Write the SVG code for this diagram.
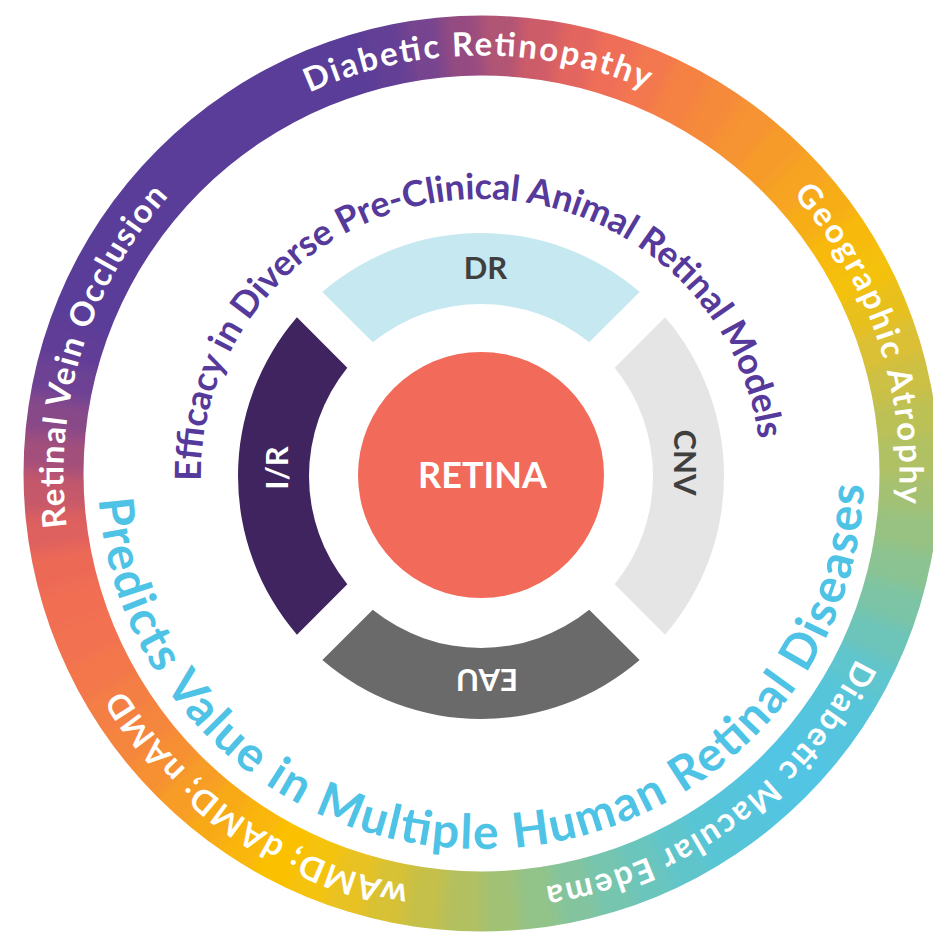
<svg xmlns="http://www.w3.org/2000/svg" width="933" height="932" viewBox="0 0 933 932">
<style>
  text { font-family: Lato, 'Open Sans', 'Liberation Sans', sans-serif; }
  .ring-txt { font-size: 33px; font-weight: 700; fill: #FFFFFF; }
  .model-txt { font-size: 36px; font-weight: 700; fill: #55399B; }
  .human-txt { font-size: 48px; font-weight: 700; fill: #4FC3E6; }
  .seg-lbl { font-size: 31px; font-weight: 700; }
  .core-lbl { font-size: 36px; font-weight: 700; fill: #FFFFFF; }
</style>
<defs>
  <circle id="rc" cx="481.5" cy="473.5" r="428" pathLength="360" fill="none" stroke-width="100"/>
  <clipPath id="ringClip">
    <path clip-rule="evenodd" d="M 939.5 473.5 A 458 458 0 0 1 23.5 473.5 A 458 458 0 0 1 939.5 473.5 Z M 879.5 473.5 A 398 398 0 0 1 83.5 473.5 A 398 398 0 0 1 879.5 473.5 Z"/>
  </clipPath>
  <filter id="soft" x="-10%" y="-10%" width="120%" height="120%">
    <feGaussianBlur stdDeviation="7"/>
  </filter>
  <path id="outerArc" d="M 481.5 891.5 A 418 418 0 0 1 63.5 473.5 A 418 418 0 0 1 481.5 55.5 A 418 418 0 0 1 899.5 473.5 A 418 418 0 0 1 481.5 891.5"/>
  <path id="purpleArc" d="M 481 751 A 280 276 0 0 1 201 475 A 280 276 0 0 1 481 199 A 280 276 0 0 1 761 475 A 280 276 0 0 1 481 751"/>
  <path id="blueArc" d="M 481 101 A 383 374 0 0 0 98 475 A 383 374 0 0 0 481 849 A 383 374 0 0 0 864 475 A 383 374 0 0 0 481 101"/>
</defs>
<rect width="933" height="932" fill="#FFFFFF"/>

<g id="outer-ring" clip-path="url(#ringClip)">
  <g filter="url(#soft)" stroke-dasharray="5.6 354.4">
    <use href="#rc" stroke="#A4C173" stroke-dashoffset="0"/>
    <use href="#rc" stroke="#98C281" stroke-dashoffset="-5"/>
    <use href="#rc" stroke="#8BC392" stroke-dashoffset="-10"/>
    <use href="#rc" stroke="#7CC4A5" stroke-dashoffset="-15"/>
    <use href="#rc" stroke="#6DC4B9" stroke-dashoffset="-20"/>
    <use href="#rc" stroke="#5FC5CE" stroke-dashoffset="-25"/>
    <use href="#rc" stroke="#57C5DA" stroke-dashoffset="-30"/>
    <use href="#rc" stroke="#54C5DF" stroke-dashoffset="-35"/>
    <use href="#rc" stroke="#51C5E3" stroke-dashoffset="-40"/>
    <use href="#rc" stroke="#52C5E2" stroke-dashoffset="-45"/>
    <use href="#rc" stroke="#56C5DC" stroke-dashoffset="-50"/>
    <use href="#rc" stroke="#59C5D5" stroke-dashoffset="-55"/>
    <use href="#rc" stroke="#60C5CB" stroke-dashoffset="-60"/>
    <use href="#rc" stroke="#6BC5BD" stroke-dashoffset="-65"/>
    <use href="#rc" stroke="#76C5AF" stroke-dashoffset="-70"/>
    <use href="#rc" stroke="#83C49E" stroke-dashoffset="-75"/>
    <use href="#rc" stroke="#92C389" stroke-dashoffset="-80"/>
    <use href="#rc" stroke="#A1C174" stroke-dashoffset="-85"/>
    <use href="#rc" stroke="#B2C060" stroke-dashoffset="-90"/>
    <use href="#rc" stroke="#C5C04A" stroke-dashoffset="-95"/>
    <use href="#rc" stroke="#D7C136" stroke-dashoffset="-100"/>
    <use href="#rc" stroke="#E8C222" stroke-dashoffset="-105"/>
    <use href="#rc" stroke="#F4C30E" stroke-dashoffset="-110"/>
    <use href="#rc" stroke="#FBC103" stroke-dashoffset="-115"/>
    <use href="#rc" stroke="#FAB60E" stroke-dashoffset="-120"/>
    <use href="#rc" stroke="#F8AA19" stroke-dashoffset="-125"/>
    <use href="#rc" stroke="#F79D26" stroke-dashoffset="-130"/>
    <use href="#rc" stroke="#F69032" stroke-dashoffset="-135"/>
    <use href="#rc" stroke="#F5863C" stroke-dashoffset="-140"/>
    <use href="#rc" stroke="#F47F44" stroke-dashoffset="-145"/>
    <use href="#rc" stroke="#F3774C" stroke-dashoffset="-150"/>
    <use href="#rc" stroke="#F27151" stroke-dashoffset="-155"/>
    <use href="#rc" stroke="#F16E52" stroke-dashoffset="-160"/>
    <use href="#rc" stroke="#EC6956" stroke-dashoffset="-165"/>
    <use href="#rc" stroke="#DE615F" stroke-dashoffset="-170"/>
    <use href="#rc" stroke="#C5586B" stroke-dashoffset="-175"/>
    <use href="#rc" stroke="#A34F7C" stroke-dashoffset="-180"/>
    <use href="#rc" stroke="#884889" stroke-dashoffset="-185"/>
    <use href="#rc" stroke="#6D4295" stroke-dashoffset="-190"/>
    <use href="#rc" stroke="#613E97" stroke-dashoffset="-195"/>
    <use href="#rc" stroke="#5A3C98" stroke-dashoffset="-200" stroke-dasharray="55.6 304.4"/>
    <use href="#rc" stroke="#643F95" stroke-dashoffset="-255"/>
    <use href="#rc" stroke="#77458F" stroke-dashoffset="-260"/>
    <use href="#rc" stroke="#954C81" stroke-dashoffset="-265"/>
    <use href="#rc" stroke="#B15474" stroke-dashoffset="-270"/>
    <use href="#rc" stroke="#CD5C69" stroke-dashoffset="-275"/>
    <use href="#rc" stroke="#E2655F" stroke-dashoffset="-280"/>
    <use href="#rc" stroke="#EF6E58" stroke-dashoffset="-285"/>
    <use href="#rc" stroke="#F3774F" stroke-dashoffset="-290"/>
    <use href="#rc" stroke="#F58143" stroke-dashoffset="-295"/>
    <use href="#rc" stroke="#F58A3A" stroke-dashoffset="-300"/>
    <use href="#rc" stroke="#F69333" stroke-dashoffset="-305"/>
    <use href="#rc" stroke="#F69B2B" stroke-dashoffset="-310"/>
    <use href="#rc" stroke="#F7A423" stroke-dashoffset="-315"/>
    <use href="#rc" stroke="#F7AE18" stroke-dashoffset="-320"/>
    <use href="#rc" stroke="#F8B90A" stroke-dashoffset="-325"/>
    <use href="#rc" stroke="#F4C107" stroke-dashoffset="-330"/>
    <use href="#rc" stroke="#E8C01E" stroke-dashoffset="-335"/>
    <use href="#rc" stroke="#DBC035" stroke-dashoffset="-340"/>
    <use href="#rc" stroke="#CCC044" stroke-dashoffset="-345"/>
    <use href="#rc" stroke="#BCC154" stroke-dashoffset="-350"/>
    <use href="#rc" stroke="#B0C164" stroke-dashoffset="-355"/>
  </g>
</g>

<g id="outer-labels">
  <text id="label-wamd" class="ring-txt" text-anchor="middle"><textPath href="#outerArc" startOffset="9.58%" textLength="357">wAMD; dAMD; nAMD</textPath></text>
  <text id="label-rvo" class="ring-txt" text-anchor="middle"><textPath href="#outerArc" startOffset="29.74%" textLength="357">Retinal Vein Occlusion</textPath></text>
  <text id="label-dr" class="ring-txt" text-anchor="middle"><textPath href="#outerArc" startOffset="49.85%" textLength="347">Diabetic Retinopathy</textPath></text>
  <text id="label-ga" class="ring-txt" text-anchor="middle"><textPath href="#outerArc" startOffset="69.76%" textLength="335">Geographic Atrophy</textPath></text>
  <text id="label-dme" class="ring-txt" text-anchor="middle"><textPath href="#outerArc" startOffset="89.93%" textLength="401">Diabetic Macular Edema</textPath></text>
</g>

<g id="human-diseases">
  <text class="human-txt" text-anchor="middle"><textPath href="#blueArc" startOffset="50.3%" textLength="1155">Predicts Value in Multiple Human Retinal Diseases</textPath></text>
</g>

<g id="preclinical-models">
  <text class="model-txt" text-anchor="middle"><textPath href="#purpleArc" startOffset="48.8%" textLength="843">Efficacy in Diverse Pre-Clinical Animal Retinal Models</textPath></text>
</g>

<g id="seg-dr">
  <path d="M 322.37 291.92 A 243 243 0 0 1 639.63 291.92 L 589.23 342.32 A 172 172 0 0 0 372.77 342.32 Z" fill="#C6E8F1"/>
  <text class="seg-lbl" x="485.5" y="279" text-anchor="middle" fill="#3F3F3F">DR</text>
</g>
<g id="seg-cnv">
  <path d="M 665.08 317.37 A 243 243 0 0 1 665.08 634.63 L 614.68 584.23 A 172 172 0 0 0 614.68 367.77 Z" fill="#E5E5E5"/>
  <text class="seg-lbl" x="0" y="11" text-anchor="middle" fill="#3F3F3F" transform="translate(685 462.5) rotate(90)">CNV</text>
</g>
<g id="seg-eau">
  <path d="M 639.63 660.08 A 243 243 0 0 1 322.37 660.08 L 372.77 609.68 A 172 172 0 0 0 589.23 609.68 Z" fill="#6A6A6A"/>
  <text class="seg-lbl" x="0" y="11" text-anchor="middle" fill="#FFFFFF" transform="translate(487 680) rotate(180)">EAU</text>
</g>
<g id="seg-ir">
  <path d="M 296.92 634.63 A 243 243 0 0 1 296.92 317.37 L 347.32 367.77 A 172 172 0 0 0 347.32 584.23 Z" fill="#40245F"/>
  <text class="seg-lbl" x="0" y="11" text-anchor="middle" fill="#FFFFFF" transform="translate(276.5 468) rotate(-90)">I/R</text>
</g>

<g id="retina">
  <circle cx="481" cy="475" r="123" fill="#F26A59"/>
  <text class="core-lbl" x="482.5" y="488" text-anchor="middle">RETINA</text>
</g>

<g id="connectors"/>
</svg>
